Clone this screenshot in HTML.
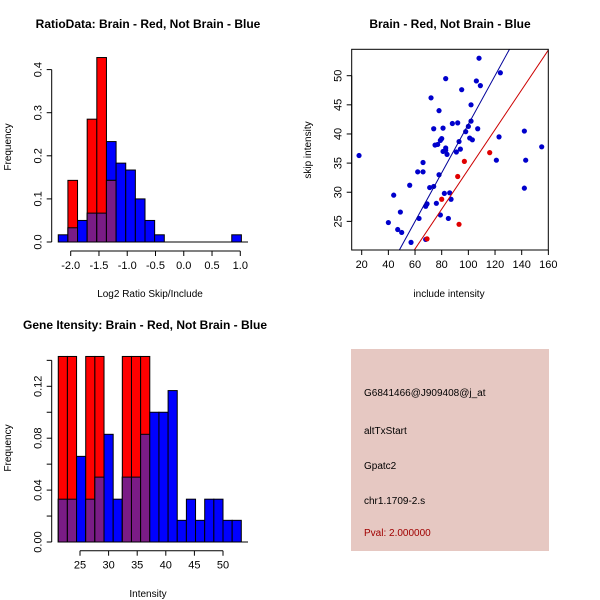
<!DOCTYPE html>
<html><head><meta charset="utf-8"><style>
body{margin:0;background:#fff}
svg{display:block;font-family:"Liberation Sans",sans-serif}
</style></head><body>
<svg id="c" width="600" height="600" xmlns="http://www.w3.org/2000/svg">
<rect width="600" height="600" fill="#fff"/>
<text x="148" y="28" font-size="12" font-weight="bold" text-anchor="middle">RatioData: Brain - Red, Not Brain - Blue</text>
<text x="450" y="28" font-size="12" font-weight="bold" text-anchor="middle">Brain - Red, Not Brain - Blue</text>
<text x="145" y="329" font-size="12" font-weight="bold" text-anchor="middle">Gene Itensity: Brain - Red, Not Brain - Blue</text>
<text x="150" y="297" font-size="10" text-anchor="middle">Log2 Ratio Skip/Include</text>
<text x="11" y="147" font-size="10" text-anchor="middle" transform="rotate(-90 11 147)">Frequency</text>
<text x="449" y="297" font-size="10" text-anchor="middle">include intensity</text>
<text x="311" y="150" font-size="10" text-anchor="middle" transform="rotate(-90 311 150)">skip intensity</text>
<text x="148" y="597" font-size="10" text-anchor="middle">Intensity</text>
<text x="11" y="448" font-size="10" text-anchor="middle" transform="rotate(-90 11 448)">Frequency</text>
<rect x="351" y="349" width="198" height="202" fill="#e6c8c2"/>
<g font-size="10">
<text x="364" y="396">G6841466@J909408@j_at</text>
<text x="364" y="434">altTxStart</text>
<text x="364" y="469">Gpatc2</text>
<text x="364" y="504">chr1.1709-2.s</text>
<text x="364" y="536" fill="#a00000">Pval: 2.000000</text>
</g>
<g id="g"></g>
</svg>
<script>
// Histogram 1 data
const ratioBlue=[0.0167,0.033,0.05,0.067,0.067,0.233,0.183,0.167,0.1,0.05,0.0167,0,0,0,0,0,0,0,0.0167];
const ratioRed=[0,0.143,0,0.285,0.428,0.143,0,0,0,0,0,0,0,0,0,0,0,0,0];
const ratioStart=-2.22, ratioWidth=0.1705;
const ratioXTicks=[-2.0,-1.5,-1.0,-0.5,0.0,0.5,1.0];
const ratioYTicks=[0,0.1,0.2,0.3,0.4];
// Scatter data
const blueX=[18,40,44,47,49,50,56,57,62,63,66,66,68,68,69,71,72,74,74,75,76,77,78,78,79,79,80,81,81,82,83,83,83,84,85,86,87,88,91,92,93,94,95,98,100,101,102,102,103,106,107,108,109,121,123,124,142,142,143,155];
const blueY=[36.3,24.8,29.5,23.6,26.6,23.1,31.2,21.4,33.5,25.5,35.1,33.5,27.6,21.9,28,30.8,46.2,40.9,31,38.1,28.1,38.2,33,44,38.9,26.1,39.2,41,37,29.8,37.6,49.5,37.2,36.5,25.5,29.9,28.8,41.8,36.9,41.9,38.7,37.4,47.6,40.4,41.3,39.3,42.2,45,39,49.1,40.9,53,48.3,35.5,39.5,50.5,40.5,30.7,35.5,37.8];
const redX=[69,80,92,93,97,116];
const redY=[22,28.8,32.7,24.5,35.3,36.8];
const blueLine=[48.25,20.08,130.75,54.5];
const redLine=[59.5,20.1,160,54.4];
const scXTicks=[20,40,60,80,100,120,140,160];
const scYTicks=[25,30,35,40,45,50];
// Histogram 2 data
const intBlue=[0.033,0.033,0.066,0.033,0.05,0.083,0.033,0.05,0.05,0.083,0.1,0.1,0.1167,0.0167,0.033,0.0167,0.033,0.033,0.0167,0.0167];
const intRed=[0.143,0.143,0,0.143,0.143,0,0,0.143,0.143,0.143,0,0,0,0,0,0,0,0,0,0];
const intStart=21.2, intWidth=1.6;
const intXTicks=[25,30,35,40,45,50];
const intYTicks=[0,0.02,0.04,0.06,0.08,0.1,0.12,0.14];
const intYLabels=["0.00","","0.04","","0.08","","0.12",""];

const G=document.getElementById('g');
const NS='http://www.w3.org/2000/svg';
function mk(t,a,p){const e=document.createElementNS(NS,t);for(const k in a)e.setAttribute(k,a[k]);(p||G).appendChild(e);return e;}
const PUR='#7a1c86';

function hist(blue,red,start,w,sx,sy,name){
  for(let i=0;i<blue.length;i++){
    const x0=sx(start+i*w),x1=sx(start+(i+1)*w);
    const b=blue[i],r=red[i];
    if(b>0){const e=mk('rect',{x:x0,y:sy(b),width:x1-x0,height:sy(0)-sy(b),fill:'#0000ff',stroke:'#000','stroke-width':1});
      
      }
    if(r>0){const e=mk('rect',{x:x0,y:sy(r),width:x1-x0,height:sy(0)-sy(r),fill:'#ff0000',stroke:'#000','stroke-width':1});
      
      
      const m=Math.min(b,r);
      if(m>0){const p=mk('rect',{x:x0,y:sy(m),width:x1-x0,height:sy(0)-sy(m),fill:PUR,stroke:'#000','stroke-width':1});
        
        }}
  }
}
function xaxis(ticks,labels,sx,y,name){
  mk('line',{x1:sx(ticks[0]),x2:sx(ticks[ticks.length-1]),y1:y,y2:y,stroke:'#000'});
  ticks.forEach((t,i)=>{mk('line',{x1:sx(t),x2:sx(t),y1:y,y2:y+5,stroke:'#000'});
    const e=mk('text',{x:sx(t),y:y+18,'font-size':11,'text-anchor':'middle'});e.textContent=labels[i];
    
    });
}
function yaxis(ticks,labels,sy,x,name){
  mk('line',{x1:x,x2:x,y1:sy(ticks[0]),y2:sy(ticks[ticks.length-1]),stroke:'#000'});
  ticks.forEach((t,i)=>{mk('line',{x1:x,x2:x-5,y1:sy(t),y2:sy(t),stroke:'#000'});
    const tx=x-10;
    const e=mk('text',{x:tx,y:sy(t),'font-size':11,'text-anchor':'middle',transform:`rotate(-90 ${tx} ${sy(t)})`});e.textContent=labels[i];
    
    });
}
// Plot 1
{const sx=v=>70.7+(v+2)*56.53, sy=v=>242-v*431;
 hist(ratioBlue,ratioRed,ratioStart,ratioWidth,sx,sy,'ratio');
 mk('line',{x1:58,x2:248,y1:242,y2:242,stroke:'#000'});
 xaxis(ratioXTicks,ratioXTicks.map(v=>v.toFixed(1)),sx,251,'ratio-x');
 yaxis(ratioYTicks,ratioYTicks.map(v=>v.toFixed(1)),sy,51.7,'ratio-y');}
// Plot 2
{const sx=v=>361.7+(v-20)*1.3333, sy=v=>75.7-(v-50)*5.827;
 const clip=mk('clipPath',{id:'cp'});mk('rect',{x:351.7,y:49.3,width:196.6,height:200.7},clip);
 const gg=mk('g',{'clip-path':'url(#cp)'});
 for(let i=0;i<blueX.length;i++){const e=mk('circle',{cx:sx(blueX[i]),cy:sy(blueY[i]),r:2.6,fill:'#0000cc'},gg);
   
   }
 for(let i=0;i<redX.length;i++){const e=mk('circle',{cx:sx(redX[i]),cy:sy(redY[i]),r:2.6,fill:'#e00000'},gg);
   
   }
 const bl=mk('line',{x1:sx(blueLine[0]),y1:sy(blueLine[1]),x2:sx(blueLine[2]),y2:sy(blueLine[3]),stroke:'#000099'},gg);
 
 
 const rl=mk('line',{x1:sx(redLine[0]),y1:sy(redLine[1]),x2:sx(redLine[2]),y2:sy(redLine[3]),stroke:'#cc0000'},gg);
 
 
 mk('rect',{x:351.7,y:49.3,width:196.6,height:200.7,fill:'none',stroke:'#000'});
 xaxis(scXTicks,scXTicks.map(String),sx,250,'scatter-x');
 yaxis(scYTicks,scYTicks.map(String),sy,351.7,'scatter-y');}
// Plot 3
{const sx=v=>80+(v-25)*5.72, sy=v=>542-v*1297.5;
 hist(intBlue,intRed,intStart,intWidth,sx,sy,'intensity');
 mk('line',{x1:58,x2:248,y1:542,y2:542,stroke:'#000'});
 xaxis(intXTicks,intXTicks.map(String),sx,550.7,'intensity-x');
 yaxis(intYTicks,intYLabels,sy,51.7,'intensity-y');}
</script>
</body></html>
